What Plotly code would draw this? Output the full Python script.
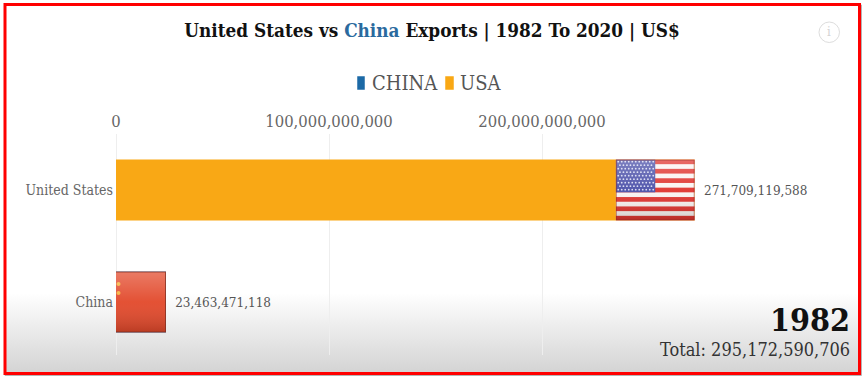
import base64
import plotly.graph_objects as go

# ---- data ----
countries = ["United States", "China"]
legend_names = ["USA", "CHINA"]
values = [271709119588, 23463471118]
colors = ["#F9A815", "#1C6AA6"]
tick_values = [0, 100000000000, 200000000000]
year_label = "1982"
total_label = "Total: 295,172,590,706"

# ---- layout geometry (pixels) ----
W, H = 865, 379
L, R, T, B = 116, 25, 134, 24
PX_PER_UNIT = 213 / 1e11
PW, PH = W - L - R, H - T - B
FONT = "DejaVu Serif Condensed, DejaVu Serif, serif"


def fx(px):
    return (px - L) / PW


def fy(py):
    return 1 - (py - T) / PH


def uri(svg):
    return "data:image/svg+xml;base64," + base64.b64encode(svg.encode()).decode()


GLOSS = ('<defs><linearGradient id="g" x1="0" y1="0" x2="0" y2="1">'
         '<stop offset="0" stop-color="#fff" stop-opacity=".28"/>'
         '<stop offset=".5" stop-color="#fff" stop-opacity=".05"/>'
         '<stop offset="1" stop-color="#000" stop-opacity=".18"/></linearGradient></defs>')


def us_flag():
    s = f'<svg xmlns="http://www.w3.org/2000/svg" width="79" height="61" viewBox="0 0 79 61" preserveAspectRatio="none">{GLOSS}'
    s += '<rect width="79" height="61" fill="#fbf4f2"/>'
    for i in range(0, 13, 2):
        s += f'<rect y="{i*61/13:.2f}" width="79" height="{61/13:.2f}" fill="#e0332e"/>'
    s += '<rect width="39.5" height="32.8" fill="#4a4fa8"/>'
    for r in range(9):
        for c in range(11 if r % 2 == 0 else 10):
            s += f'<circle cx="{(2.5 if r % 2 == 0 else 4.2)+c*3.5:.1f}" cy="{2.2+r*3.5:.1f}" r=".9" fill="#d8daf2"/>'
    s += '<rect width="79" height="61" fill="url(#g)"/>'
    s += '<rect x=".5" y=".5" width="78" height="60" fill="none" stroke="#8a2a22" stroke-opacity=".6"/></svg>'
    return uri(s)


def cn_flag():
    s = f'<svg xmlns="http://www.w3.org/2000/svg" width="50" height="61" viewBox="0 0 50 61" preserveAspectRatio="none">{GLOSS}'
    s += '<rect width="50" height="61" fill="#e2482a"/>'
    s += '<circle cx="2.5" cy="12.5" r="2" fill="#f4b13a"/><circle cx="2.5" cy="21.5" r="2" fill="#f4b13a"/>'
    s += '<rect width="50" height="61" fill="url(#g)"/>'
    s += '<path d="M0 .5H49.5V60.5H0" fill="none" stroke="#7c2f22" stroke-opacity=".75"/></svg>'
    return uri(s)


def shade():
    s = ('<svg xmlns="http://www.w3.org/2000/svg" width="10" height="80" viewBox="0 0 10 80" preserveAspectRatio="none">'
         '<defs><linearGradient id="b" x1="0" y1="0" x2="0" y2="1"><stop offset="0" stop-color="#fff"/>'
         '<stop offset="1" stop-color="#d4d4d4"/></linearGradient></defs>'
         '<rect width="10" height="80" fill="url(#b)"/></svg>')
    return uri(s)


fig = go.Figure()
y_pos = list(range(len(countries)))
for i in reversed(y_pos):
    fig.add_trace(go.Bar(
        x=[values[i]], y=[y_pos[i]], orientation="h", name=legend_names[i],
        marker=dict(color=colors[i], line=dict(width=0)), width=0.545,
        text=["\u00a0\u2009" + f"{values[i]:,}"], textposition="outside",
        textfont=dict(family=FONT, size=13.4, color="#555"), cliponaxis=False,
        hoverinfo="skip",
    ))

flag_w = 79 / PX_PER_UNIT
images = [
    dict(source=shade(), xref="paper", yref="paper", x=fx(6), y=fy(293), sizex=fx(858) - fx(6),
         sizey=fy(293) - fy(372), xanchor="left", yanchor="top", sizing="stretch", layer="below"),
    dict(source=us_flag(), xref="x", yref="y", x=values[0] - flag_w, y=y_pos[0] - 0.2725, sizex=flag_w,
         sizey=0.545, xanchor="left", yanchor="top", sizing="stretch", layer="above"),
    dict(source=cn_flag(), xref="x", yref="y", x=0, y=y_pos[1] - 0.2725, sizex=values[1],
         sizey=0.545, xanchor="left", yanchor="top", sizing="stretch", layer="above"),
]


def swatch(x0, x1, y0, y1, color):
    return dict(type="rect", xref="paper", yref="paper", x0=fx(x0), x1=fx(x1), y0=fy(y0), y1=fy(y1),
                fillcolor=color, line=dict(color=color, width=1.5, dash="solid"))


shapes = [
    dict(type="rect", xref="paper", yref="paper", x0=fx(5), x1=fx(861.5), y0=fy(5), y1=fy(375.5),
         line=dict(color="#b5b5b5", width=1), layer="below"),
    dict(type="rect", xref="paper", yref="paper", x0=fx(5), x1=fx(859.5), y0=fy(4.5), y1=fy(373.5),
         line=dict(color="#ff0000", width=3), layer="above"),
    dict(type="circle", xref="paper", yref="paper", x0=fx(819), x1=fx(839.5), y0=fy(22), y1=fy(42.5),
         line=dict(color="#dddddd", width=1)),
    swatch(358, 364, 77, 89, colors[1]),
    swatch(446, 453, 77, 89, colors[0]),
]

annotations = [
    dict(text="i", xref="paper", yref="paper", x=fx(829.2), y=fy(32), xanchor="center", yanchor="middle",
         showarrow=False, font=dict(family=FONT, size=13, color="#d4d4d4")),
    dict(text=f"<b>{year_label}</b>", xref="paper", yref="paper", x=fx(852), y=fy(320), xanchor="right", yanchor="middle",
         showarrow=False, font=dict(family=FONT, size=32, color="#111")),
    dict(text=total_label, xref="paper", yref="paper", x=fx(852), y=fy(349), xanchor="right", yanchor="middle",
         showarrow=False, font=dict(family=FONT, size=18, color="#333")),
    dict(text=legend_names[1], xref="paper", yref="paper", x=fx(370), y=fy(83), xanchor="left", yanchor="middle",
         showarrow=False, font=dict(family=FONT, size=20, color="#555")),
    dict(text=legend_names[0], xref="paper", yref="paper", x=fx(458), y=fy(83), xanchor="left", yanchor="middle",
         showarrow=False, font=dict(family=FONT, size=20, color="#555")),
]

fig.update_layout(
    width=W, height=H, autosize=False, margin=dict(l=L, r=R, t=T, b=B),
    paper_bgcolor="white", plot_bgcolor="rgba(0,0,0,0)",
    barmode="overlay", showlegend=False,
    title=dict(text='<b>United States vs <span style="color:#2a6a9e">China</span> Exports | 1982 To 2020 | US$</b>',
               x=432 / W, xanchor="center", y=1 - 30 / H, yanchor="middle",
               font=dict(family=FONT, size=18.8, color="#111")),
    xaxis=dict(side="top", range=[0, PW / PX_PER_UNIT], tickmode="array", tickvals=tick_values,
               tickformat=",d", ticks="", ticklabelstandoff=3,
               showline=False, showgrid=True, gridcolor="#eeeeee", gridwidth=1,
               zeroline=True, zerolinecolor="#eeeeee", zerolinewidth=1,
               tickfont=dict(family=FONT, size=16.5, color="#666")),
    yaxis=dict(range=[1.473, -0.5], tickmode="array", tickvals=y_pos, ticktext=countries,
               ticks="", ticklabelstandoff=2,
               showgrid=False, zeroline=False, showline=False,
               tickfont=dict(family=FONT, size=14, color="#666")),
    images=images, shapes=shapes, annotations=annotations,
)
fig.write_html("out.html", config={"displayModeBar": False},
               post_script="document.body.style.margin='0';document.documentElement.style.overflow='hidden';")
